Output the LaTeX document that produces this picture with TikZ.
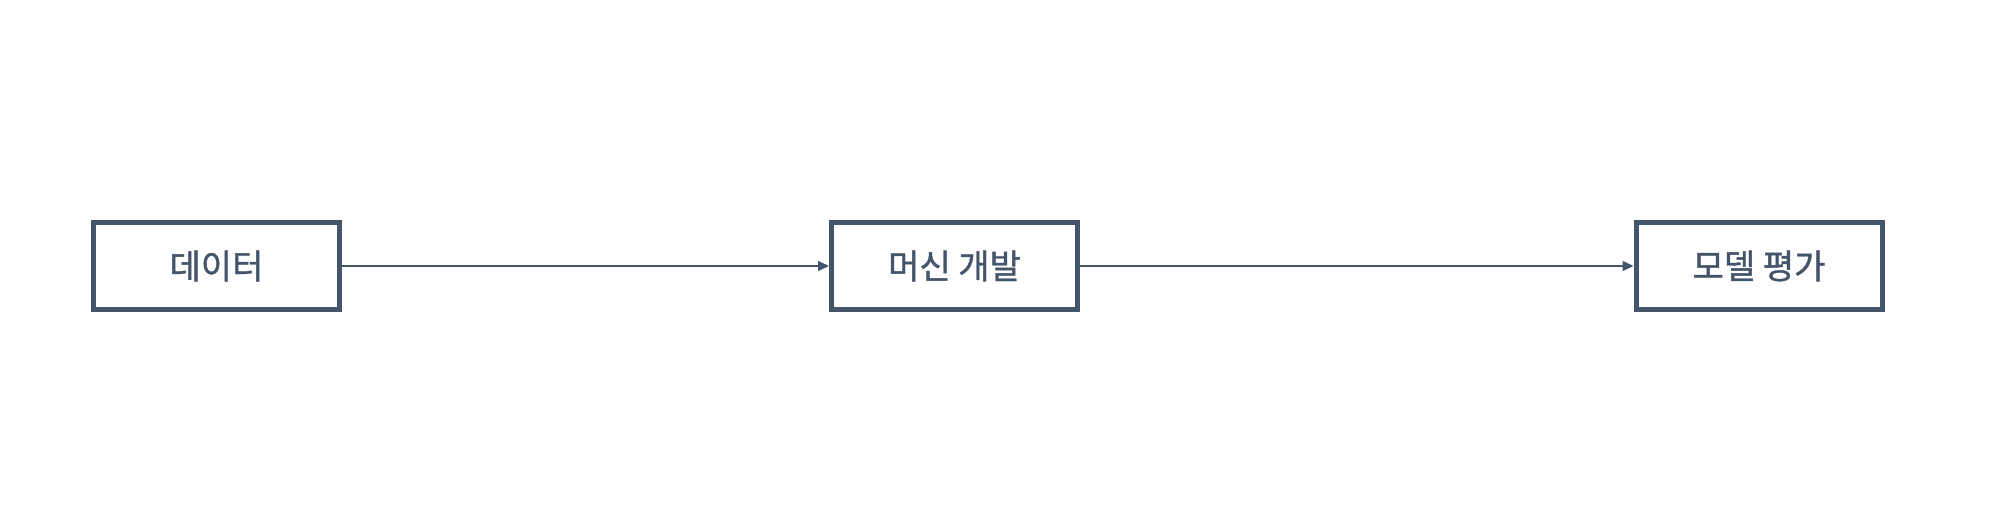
\documentclass[tikz,border=0pt]{standalone}
\usepackage{fontspec}
\newfontfamily\kr[FakeBold=1.2]{Noto Sans CJK KR}
\usetikzlibrary{arrows.meta}
\definecolor{slate}{HTML}{44546A}
\begin{document}
\begin{tikzpicture}[x=1pt,y=-1pt,
  box/.style={draw=slate, line width=5pt, fill=white, minimum width=246pt, minimum height=87pt, inner sep=0pt, font=\kr\fontsize{34}{40}\selectfont, text=slate},
  conn/.style={draw=slate, line width=1.5pt, -{Triangle[length=11pt,width=10pt]}}]
\useasboundingbox (0,0) rectangle (1999,529);
\fill[white] (0,0) rectangle (1999,529);
\node[box] (a) at (216.5,266) {데이터};
\node[box] (b) at (954.5,266) {머신 개발};
\node[box] (c) at (1759,266) {모델 평가};
\draw[conn] (a.east) -- (b.west);
\draw[conn] (b.east) -- (c.west);
\end{tikzpicture}
\end{document}
